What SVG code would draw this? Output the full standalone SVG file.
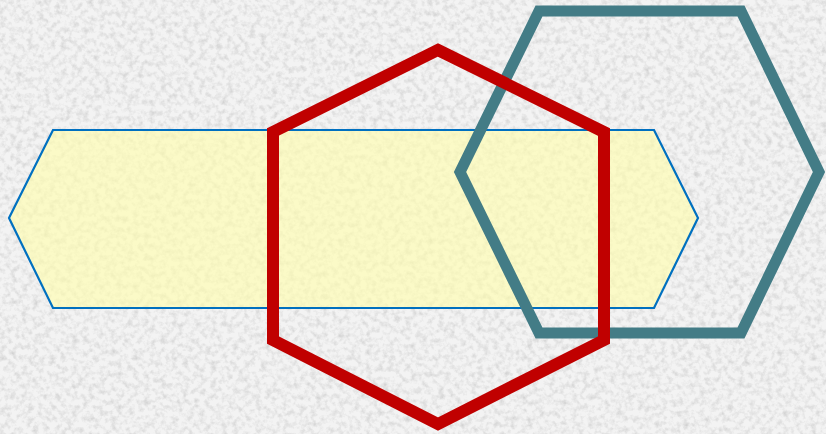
<svg xmlns="http://www.w3.org/2000/svg" width="826" height="434" viewBox="0 0 826 434">
  <defs>
    <filter id="grain" x="0" y="0" width="100%" height="100%">
      <feTurbulence type="fractalNoise" baseFrequency="0.18" numOctaves="3" seed="7" result="n"/>
      <feColorMatrix in="n" type="matrix" values="0 0 0 0 0.45  0 0 0 0 0.45  0 0 0 0 0.45  1.0 0 0 0 -0.42"/>
    </filter>
  </defs>
  <style>
    .bg { fill: #f3f3f3; }
    .band { fill: #fffdab; fill-opacity: 0.62; stroke: #0070c0; stroke-width: 2.2; stroke-linejoin: miter; }
    .red { fill: none; stroke: #c00000; stroke-width: 12; stroke-linejoin: miter; }
    .teal { fill: none; stroke: #437c86; stroke-width: 11; stroke-linejoin: miter; }
  </style>
  <rect class="bg" x="0" y="0" width="826" height="434"/>
  <rect x="0" y="0" width="826" height="434" filter="url(#grain)"/>
  <g id="band">
    <polygon class="band" points="9,218 53,130 654,130 698,218 654,308 53,308"/>
  </g>
  <g id="teal-hexagon">
    <polygon class="teal" points="539,11 741,11 819,172 741,333 539,333 460,172"/>
  </g>
  <g id="red-hexagon">
    <polygon class="red" points="438,50 604,132 604,340 438,424 273,340 273,132"/>
  </g>
</svg>
